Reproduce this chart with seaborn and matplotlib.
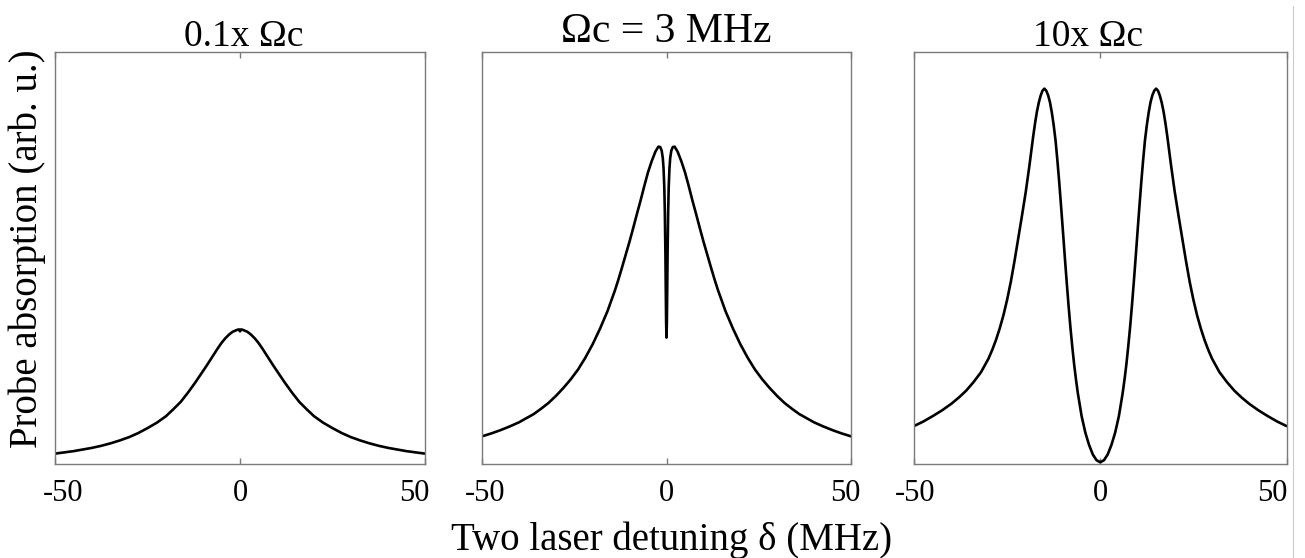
import matplotlib
matplotlib.use("Agg")
import matplotlib.pyplot as plt
from matplotlib.lines import Line2D
from matplotlib.transforms import ScaledTranslation
import pandas as pd
import seaborn as sns

# Probe absorption spectra (arb. u.) versus two-laser detuning (MHz)
x_weak = [-50, -47.5, -45, -42.5, -40, -37.5, -35, -32.5, -30, -27.5, -25, -22.5, -20,
          -18, -16, -14, -12, -10.5, -9, -7.5, -6, -5, -4, -3, -2, -1, -0.3, 0,
          0.3, 1, 2, 3, 4, 5, 6, 7.5, 9, 10.5, 12, 14, 16, 18, 20, 22.5, 25, 27.5, 30,
          32.5, 35, 37.5, 40, 42.5, 45, 47.5, 50]
y_weak = [0.024, 0.027, 0.030, 0.034, 0.038, 0.043, 0.049, 0.056, 0.064, 0.074, 0.086,
          0.099, 0.115, 0.132, 0.150, 0.173, 0.198, 0.218, 0.238, 0.259, 0.280, 0.293,
          0.304, 0.313, 0.320, 0.324, 0.326, 0.321,
          0.326, 0.324, 0.320, 0.313, 0.304, 0.293, 0.280, 0.259, 0.238, 0.218, 0.198,
          0.173, 0.150, 0.132, 0.115, 0.099, 0.086, 0.074, 0.064, 0.056, 0.049, 0.043,
          0.038, 0.034, 0.030, 0.027, 0.024]

x_mid = [-50, -47.5, -45, -42.5, -40, -38, -36, -34, -32, -30, -28, -26, -24, -22, -20,
         -18, -16, -14, -13, -12, -11, -10, -9, -8, -7, -6, -5, -4, -3, -2.2, -1.7, -1.3,
         -1.0, -0.8, -0.6, -0.45, -0.3, -0.2, -0.1, 0,
         0.1, 0.2, 0.3, 0.45, 0.6, 0.8, 1.0, 1.3, 1.7, 2.2, 3, 4, 5, 6, 7, 8, 9, 10, 11,
         12, 13, 14, 16, 18, 20, 22, 24, 26, 28, 30, 32, 34, 36, 38, 40, 42.5, 45, 47.5, 50]
y_mid = [0.066, 0.073, 0.081, 0.090, 0.100, 0.110, 0.120, 0.133, 0.147, 0.164, 0.183,
         0.204, 0.228, 0.257, 0.290, 0.328, 0.370, 0.420, 0.448, 0.478, 0.509, 0.540,
         0.573, 0.607, 0.640, 0.675, 0.708, 0.735, 0.758, 0.770, 0.769, 0.760, 0.742,
         0.717, 0.672, 0.611, 0.513, 0.426, 0.343, 0.306,
         0.343, 0.426, 0.513, 0.611, 0.672, 0.717, 0.742, 0.760, 0.769, 0.770, 0.758,
         0.735, 0.708, 0.675, 0.640, 0.607, 0.573, 0.540, 0.509, 0.478, 0.448, 0.420,
         0.370, 0.328, 0.290, 0.257, 0.228, 0.204, 0.183, 0.164, 0.147, 0.133, 0.120,
         0.110, 0.100, 0.090, 0.081, 0.073, 0.066]

x_strong = [-50, -47.5, -45, -42.5, -40, -38, -36, -34, -32, -30, -29, -28, -27, -26, -25,
            -24, -23, -22, -21, -20, -19, -18.5, -18, -17.5, -17, -16.5, -16, -15.5, -15,
            -14.5, -14, -13.5, -13, -12.5, -12, -11.5, -11, -10.5, -10, -9.5, -9, -8.5,
            -8, -7.5, -7, -6.5, -6, -5, -4, -3, -2, -1, 0,
            1, 2, 3, 4, 5, 6, 6.5, 7, 7.5, 8, 8.5, 9, 9.5, 10, 10.5, 11, 11.5, 12, 12.5,
            13, 13.5, 14, 14.5, 15, 15.5, 16, 16.5, 17, 17.5, 18, 18.5, 19, 20, 21, 22,
            23, 24, 25, 26, 27, 28, 29, 30, 32, 34, 36, 38, 40, 42.5, 45, 47.5, 50]
y_strong = [0.091, 0.102, 0.115, 0.129, 0.145, 0.160, 0.177, 0.198, 0.222, 0.255, 0.276,
            0.300, 0.328, 0.360, 0.398, 0.442, 0.493, 0.548, 0.603, 0.660, 0.725, 0.760,
            0.795, 0.827, 0.855, 0.877, 0.894, 0.906, 0.911, 0.906, 0.895, 0.878, 0.853,
            0.822, 0.785, 0.736, 0.682, 0.623, 0.562, 0.500, 0.440, 0.383, 0.330, 0.283,
            0.240, 0.203, 0.170, 0.115, 0.075, 0.045, 0.022, 0.008, 0.003,
            0.008, 0.022, 0.045, 0.075, 0.115, 0.170, 0.203, 0.240, 0.283, 0.330, 0.383,
            0.440, 0.500, 0.562, 0.623, 0.682, 0.736, 0.785, 0.822, 0.853, 0.878, 0.895,
            0.906, 0.911, 0.906, 0.894, 0.877, 0.855, 0.827, 0.795, 0.760, 0.725, 0.660,
            0.603, 0.548, 0.493, 0.442, 0.398, 0.360, 0.328, 0.300, 0.276, 0.255, 0.222,
            0.198, 0.177, 0.160, 0.145, 0.129, 0.115, 0.102, 0.091]

panel_titles = ["0.1x \u03a9c", "\u03a9c = 3 MHz", "10x \u03a9c"]
tick_values = [-50, 0, 50]
tick_labels = ["-50", "0", "50"]
x_label = "Two laser detuning \u03b4 (MHz)"
y_label = "Probe absorption (arb. u.)"

sns.set_theme(style="white")
plt.rcParams["font.family"] = ["Liberation Serif", "DejaVu Serif"]
plt.rcParams["axes.unicode_minus"] = False

W, H = 1305, 558
fig = plt.figure(figsize=(W / 100, H / 100), dpi=100)

# axes boxes in pixels: (left, right)
boxes = [(55, 425), (482, 851), (914, 1286.5)]
top_px, bottom_px = 52, 463.5
title_sizes = [27, 30, 27]
title_dx = [3.5, 0, -12]
title_lift = [6, 10, 6]
label_dx = [(8, 0, -11), (3, 0, -6), (1, 0, -14)]

frames = [pd.DataFrame({"d": x_weak, "a": y_weak}),
          pd.DataFrame({"d": x_mid, "a": y_mid}),
          pd.DataFrame({"d": x_strong, "a": y_strong})]

spine_col = "#7a7a7a"
for i, ((l, r), df) in enumerate(zip(boxes, frames)):
    ax = fig.add_axes([l / W, (H - bottom_px) / H, (r - l) / W, (bottom_px - top_px) / H])
    sns.lineplot(data=df, x="d", y="a", ax=ax, color="black", linewidth=1.9,
                 sort=False, estimator=None)
    ax.set_xlim(-50, 50)
    ax.set_ylim(0, 1)
    ax.set_xlabel("")
    ax.set_ylabel("")
    ax.set_yticks([])
    ax.set_xticks(tick_values)
    ax.set_xticklabels(tick_labels, fontsize=22, color="black")
    ax.tick_params(axis="x", direction="in", length=4, width=1, color=spine_col,
                   top=True, bottom=True, pad=11)
    for s in ax.spines.values():
        s.set_visible(True)
        s.set_color(spine_col)
        s.set_linewidth(1.0)
    for lbl, dx in zip(ax.get_xticklabels(), label_dx[i]):
        lbl.set_transform(lbl.get_transform() + ScaledTranslation(dx / 100, 0, fig.dpi_scale_trans))
    ax.text(0.5 + title_dx[i] / (r - l), 1 + title_lift[i] / (bottom_px - top_px),
            panel_titles[i], transform=ax.transAxes, ha="center", va="baseline",
            fontsize=title_sizes[i], color="black")

fig.text(672 / W, (H - 550) / H, x_label, ha="center", va="baseline",
         fontsize=28, color="black")
fig.text(27 / W, (H - 249) / H, y_label, ha="center", va="center", rotation=90,
         fontsize=28, color="black")

# thin frame line at the right margin
fig.add_artist(Line2D([1293 / W, 1293 / W], [0, 0.99], transform=fig.transFigure,
                      color="#cccccc", linewidth=0.8))

fig.savefig("out.png", dpi=100, facecolor="white")
